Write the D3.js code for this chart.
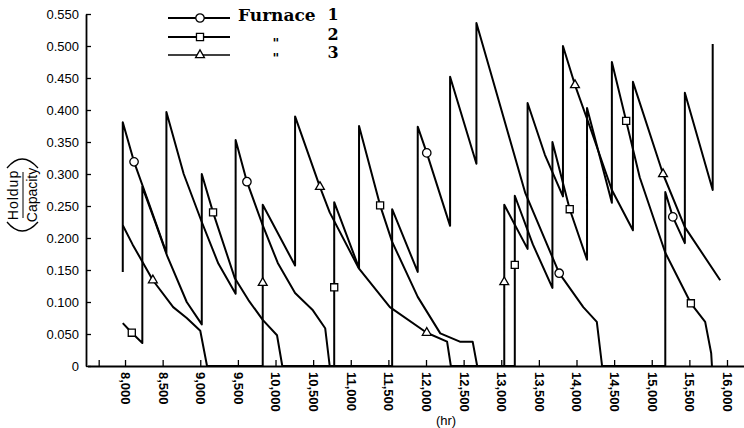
<!DOCTYPE html>
<html lang="en">
<head>
    <meta charset="UTF-8">
    <title>Furnace Holdup</title>
    <script src="https://d3js.org/d3.v7.min.js"></script>
    <style>
        body {
            margin: 0;
            background-color: white;
        }
        svg {
            display: block;
        }
        .tick text {
            font-family: "Liberation Sans", Arial, sans-serif;
        }
    </style>
</head>
<body>
    <script>
        // Furnace holdup/capacity, [hours, value]
        const furnace1 = [
            [7970, 0.147], [7970, 0.381], [8120, 0.319], [8330, 0.25], [8550, 0.177],
            [8550, 0.397], [8780, 0.30], [9020, 0.225], [9240, 0.16], [9470, 0.113],
            [9470, 0.353], [9620, 0.288], [9820, 0.223], [10030, 0.161], [10260, 0.114],
            [10490, 0.088], [10660, 0.059], [10720, 0], [11550, 0], [11550, 0.245],
            [11890, 0.147], [11890, 0.374], [12010, 0.333], [12320, 0.219], [12320, 0.452],
            [12670, 0.316], [12670, 0.536], [12850, 0.4625], [13320, 0.27], [13770, 0.145],
            [14090, 0.092], [14270, 0.069], [14340, 0], [15180, 0], [15180, 0.272],
            [15280, 0.233], [15440, 0.192], [15440, 0.427], [15810, 0.275], [15810, 0.503]
        ];
        const furnace2 = [
            [7970, 0.067], [8090, 0.052], [8230, 0.036], [8230, 0.28], [8400, 0.225],
            [8560, 0.172], [8820, 0.10], [9020, 0.065], [9020, 0.30], [9170, 0.24],
            [9460, 0.137], [9640, 0.103], [9830, 0.072], [10020, 0.048], [10090, 0],
            [10780, 0], [10780, 0.256], [11110, 0.153], [11110, 0.375], [11390, 0.251],
            [11550, 0.194], [11890, 0.108], [12190, 0.051], [12450, 0.038], [12620, 0.038],
            [12680, 0], [13180, 0], [13180, 0.266], [13420, 0.19], [13680, 0.122],
            [13680, 0.35], [13910, 0.245], [14140, 0.166], [14140, 0.403], [14470, 0.255],
            [14470, 0.475], [14660, 0.383], [14840, 0.295], [15180, 0.177], [15520, 0.098],
            [15710, 0.069], [15790, 0.02], [15800, 0]
        ];
        const furnace3 = [
            [7970, 0.22], [8100, 0.19], [8370, 0.134], [8640, 0.092], [8820, 0.075],
            [9000, 0.055], [9090, 0], [9830, 0], [9830, 0.252], [10260, 0.157],
            [10260, 0.39], [10590, 0.28], [10720, 0.24], [11110, 0.152], [11520, 0.092],
            [12010, 0.052], [12280, 0.038], [12330, 0], [13040, 0], [13040, 0.252],
            [13350, 0.183], [13350, 0.411], [13580, 0.33], [13820, 0.265], [13820, 0.50],
            [13980, 0.439], [14180, 0.373], [14470, 0.275], [14750, 0.212], [14750, 0.444],
            [15150, 0.30], [15440, 0.217], [15910, 0.134]
        ];

        // where the marker symbols sit on each curve
        const circles1 = [[8120, 0.319], [9620, 0.288], [12010, 0.333], [13770, 0.145], [15280, 0.233]];
        const squares2 = [[8090, 0.052], [9170, 0.24], [10780, 0.123], [11390, 0.251],
                          [13180, 0.158], [13910, 0.245], [14660, 0.383], [15520, 0.098]];
        const triangles3 = [[8370, 0.134], [9830, 0.13], [10590, 0.28], [12010, 0.052],
                            [13040, 0.131], [13980, 0.439], [15150, 0.30]];

        // axis ticks
        const xTicks = d3.range(8000, 16001, 500);
        const xMinorTicks = [7650];
        const yTicks = d3.range(0, 0.551, 0.05);
        const legendLabels = ["Furnace", "\"", "\""];
        const legendNumbers = ["1", "2", "3"];

        const width = 744, height = 428;

        const svg = d3.select("body").append("svg")
            .attr("width", width)
            .attr("height", height);

        // Scales
        const x = d3.scaleLinear().domain([7500, 16230]).range([87.4, 744.3]);
        const y = d3.scaleLinear().domain([0, 0.55]).range([366, 14]);

        // X axis, ticks point up into the plot, labels turned on their side
        const xAxis = svg.append("g")
            .attr("transform", `translate(0,${y(0)})`)
            .call(d3.axisBottom(x)
                .tickValues(xMinorTicks.concat(xTicks))
                .tickFormat(d => xTicks.includes(d) ? d3.format(",")(d) : "")
                .tickSize(-6)
                .tickSizeOuter(0));
        xAxis.select(".domain").attr("stroke-width", 1.8);
        xAxis.selectAll(".tick line").attr("stroke-width", 1.3);
        xAxis.selectAll("text")
            .attr("y", 0)
            .attr("x", 6)
            .attr("dy", "0.35em")
            .attr("transform", "rotate(90)")
            .style("text-anchor", "start")
            .style("font-size", "13px")
            .style("font-weight", "bold")
            .attr("fill", "black");

        // Y axis
        const yAxis = svg.append("g")
            .attr("transform", "translate(86,0)")
            .call(d3.axisLeft(y)
                .tickValues(yTicks)
                .tickFormat(d => d < 0.001 ? "0" : d3.format(".3f")(d))
                .tickSize(-5)
                .tickPadding(7)
                .tickSizeOuter(0));
        yAxis.select(".domain").attr("stroke-width", 1.8);
        yAxis.selectAll(".tick line").attr("stroke-width", 1.3);
        yAxis.selectAll("text")
            .style("font-size", "13px")
            .attr("fill", "black");

        // Y label: (Holdup / Capacity) as a fraction, brackets drawn as arcs
        const yLab = svg.append("g")
            .attr("transform", "translate(22,195) rotate(-90)")
            .style("font-family", "\"Liberation Sans\", Arial, sans-serif")
            .attr("text-anchor", "middle");
        yLab.append("text").attr("y", -4).style("font-size", "14px")
            .style("letter-spacing", "1px").text("Holdup");
        yLab.append("line").attr("x1", -23).attr("x2", 23).attr("y1", 1).attr("y2", 1)
            .attr("stroke", "black").attr("stroke-width", 1);
        yLab.append("text").attr("y", 15).style("font-size", "14px").text("Capacity");
        svg.append("path")
            .attr("d", "M7,168 Q22,150 38,168 M7,222 Q22,240 38,222")
            .attr("fill", "none")
            .attr("stroke", "black")
            .attr("stroke-width", 1.3);

        // X label
        svg.append("text")
            .attr("x", 446)
            .attr("y", 425)
            .attr("text-anchor", "middle")
            .style("font-family", "\"Liberation Sans\", Arial, sans-serif")
            .style("font-size", "13px")
            .text("(hr)");

        // Curves
        const line = d3.line().x(d => x(d[0])).y(d => y(d[1]));
        [furnace1, furnace2, furnace3].forEach(series => {
            svg.append("path")
                .datum(series)
                .attr("d", line)
                .attr("fill", "none")
                .attr("stroke", "black")
                .attr("stroke-width", 2)
                .attr("stroke-linejoin", "round");
        });

        // Marker symbols
        const symbolTypes = [d3.symbolCircle, d3.symbolSquare, d3.symbolTriangle];
        const symbolSizes = [56, 50, 34];
        const drawMarkers = (pts, i) => {
            svg.selectAll(null)
                .data(pts)
                .enter()
                .append("path")
                .attr("transform", d => `translate(${x(d[0])},${y(d[1])})`)
                .attr("d", d3.symbol().type(symbolTypes[i]).size(symbolSizes[i]))
                .attr("fill", "white")
                .attr("stroke", "black")
                .attr("stroke-width", 1.3);
        };
        [circles1, squares2, triangles3].forEach(drawMarkers);

        // Legend
        const legendY = [18, 37, 55];
        const legend = svg.append("g");
        legendY.forEach((ly, i) => {
            legend.append("line")
                .attr("x1", 168).attr("x2", 230)
                .attr("y1", ly).attr("y2", ly)
                .attr("stroke", "black")
                .attr("stroke-width", i === 2 ? 1.3 : 1.8);
            legend.append("path")
                .attr("transform", `translate(200,${ly})`)
                .attr("d", d3.symbol().type(symbolTypes[i]).size(symbolSizes[i]))
                .attr("fill", "white")
                .attr("stroke", "black")
                .attr("stroke-width", 1.3);
            legend.append("text")
                .attr("x", i === 0 ? 238 : 276)
                .attr("y", [21, 48, 63][i])
                .attr("text-anchor", i === 0 ? "start" : "middle")
                .style("font-family", "\"DejaVu Serif\", serif")
                .style("font-weight", "bold")
                .style("font-size", i === 0 ? "17px" : "13px")
                .text(legendLabels[i]);
            legend.append("text")
                .attr("x", 333)
                .attr("y", [20, 40, 58][i])
                .attr("text-anchor", "middle")
                .style("font-family", "\"DejaVu Serif\", serif")
                .style("font-weight", "bold")
                .style("font-size", "16px")
                .text(legendNumbers[i]);
        });
    </script>
</body>
</html>
